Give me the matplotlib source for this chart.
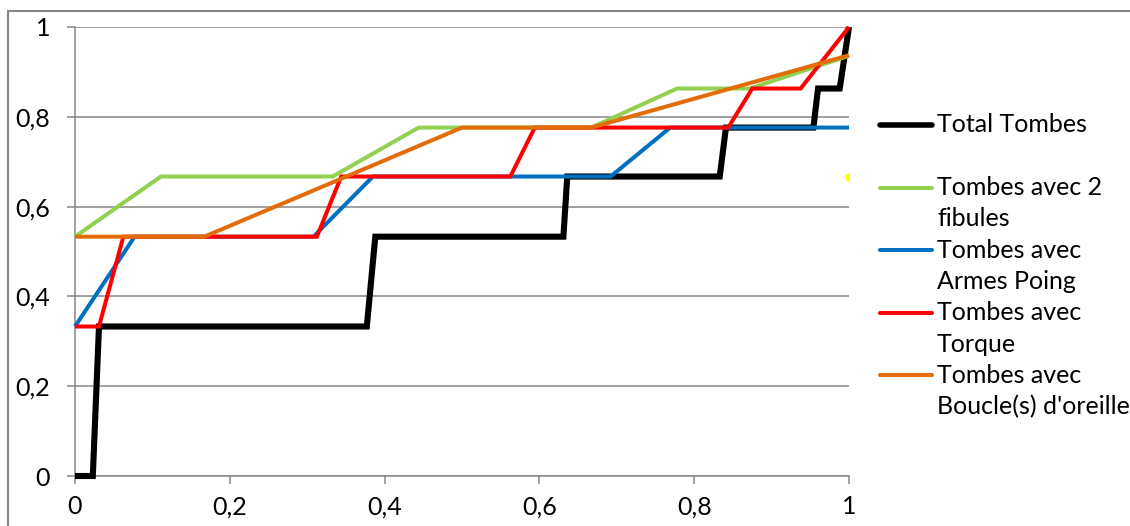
import matplotlib
matplotlib.use("Agg")
import matplotlib.pyplot as plt
from matplotlib.lines import Line2D
from matplotlib.patches import Rectangle
from matplotlib.ticker import FuncFormatter

# Cumulative shares
x_total = [0, 0.023, 0.031, 0.377, 0.388, 0.631, 0.636, 0.833, 0.841, 0.954, 0.960, 0.988, 1.0]
y_total = [0, 0, 0.333, 0.333, 0.533, 0.533, 0.667, 0.667, 0.776, 0.776, 0.863, 0.863, 1.0]

x_fibules = [0, 0.111, 0.333, 0.444, 0.667, 0.778, 0.872, 1.0]
y_fibules = [0.533, 0.667, 0.667, 0.776, 0.776, 0.863, 0.863, 0.936]

x_armes = [0, 0.077, 0.308, 0.385, 0.692, 0.769, 1.0]
y_armes = [0.333, 0.533, 0.533, 0.667, 0.667, 0.776, 0.776]

x_torque = [0, 0.031, 0.0625, 0.3125, 0.344, 0.5625, 0.594, 0.844, 0.875, 0.9375, 1.0]
y_torque = [0.333, 0.333, 0.533, 0.533, 0.667, 0.667, 0.776, 0.776, 0.863, 0.863, 1.0]

x_boucles = [0, 0.167, 0.5, 0.667, 1.0]
y_boucles = [0.533, 0.533, 0.776, 0.776, 0.937]

# stray yellow point (unnamed series)
x_extra = [1.0]
y_extra = [0.667]

series = [
    ("Total Tombes", x_total, y_total, "#000000", 4.4),
    ("", x_extra, y_extra, "#FFFF00", 0),
    ("Tombes avec 2\nfibules", x_fibules, y_fibules, "#92D050", 2.9),
    ("Tombes avec\nArmes Poing", x_armes, y_armes, "#0070C0", 2.9),
    ("Tombes avec\nTorque", x_torque, y_torque, "#FF0000", 2.9),
    ("Tombes avec\nBoucle(s) d'oreille", x_boucles, y_boucles, "#E36C09", 2.9),
]

plt.rcParams["font.family"] = ["Lato", "DejaVu Sans"]

W, H = 1130, 526
fig = plt.figure(figsize=(W / 100, H / 100), dpi=100)
ax = fig.add_axes([75 / W, 1 - 476 / H, (849 - 75) / W, (476 - 27) / H])

grid_col = "#868686"

for name, xs, ys, col, lw in series:
    if lw == 0:
        ax.plot(xs, ys, "o", color=col, markersize=5, zorder=3)
    else:
        ax.plot(xs, ys, color=col, lw=lw, solid_joinstyle="miter",
                solid_capstyle="butt", clip_on=False, zorder=3)

ax.set_xlim(0, 1)
ax.set_ylim(0, 1)
ax.set_xticks([0, 0.2, 0.4, 0.6, 0.8, 1.0])
ax.set_yticks([0, 0.2, 0.4, 0.6, 0.8, 1.0])
fmt = FuncFormatter(lambda v, p: ("%g" % round(v, 1)).replace(".", ","))
ax.xaxis.set_major_formatter(fmt)
ax.yaxis.set_major_formatter(fmt)

ax.yaxis.grid(True, color=grid_col, lw=1.1)
ax.set_axisbelow(True)
for s in ["top", "right"]:
    ax.spines[s].set_visible(False)
for s in ["left", "bottom"]:
    ax.spines[s].set_color(grid_col)
    ax.spines[s].set_linewidth(1.1)
ax.tick_params(axis="both", direction="out", length=6, width=1.1,
               color=grid_col, labelsize=18)
ax.tick_params(axis="y", pad=12)
ax.tick_params(axis="x", pad=8)

# chart-area border
fig.add_artist(Rectangle((8 / W, -0.1), 1.2, 1 - 11 / H + 0.1,
                         transform=fig.transFigure, fill=False,
                         edgecolor=grid_col, lw=1.5))

# legend, drawn line by line as in the reference
step = 31.3
row = 0
for name, xs, ys, col, lw in series:
    y = 1 - (125 + row * step) / H
    if lw > 0:
        fig.add_artist(Line2D([880 / W, 932 / W], [y, y], color=col,
                              lw=lw if lw < 4 else 4.0,
                              solid_capstyle="round"))
    lines = name.split("\n")
    for k, txt in enumerate(lines):
        fig.text(937 / W, 1 - (125 + (row + k) * step) / H, txt,
                 ha="left", va="center", fontsize=18)
    row += len(lines)

fig.savefig("out.png", dpi=100)
